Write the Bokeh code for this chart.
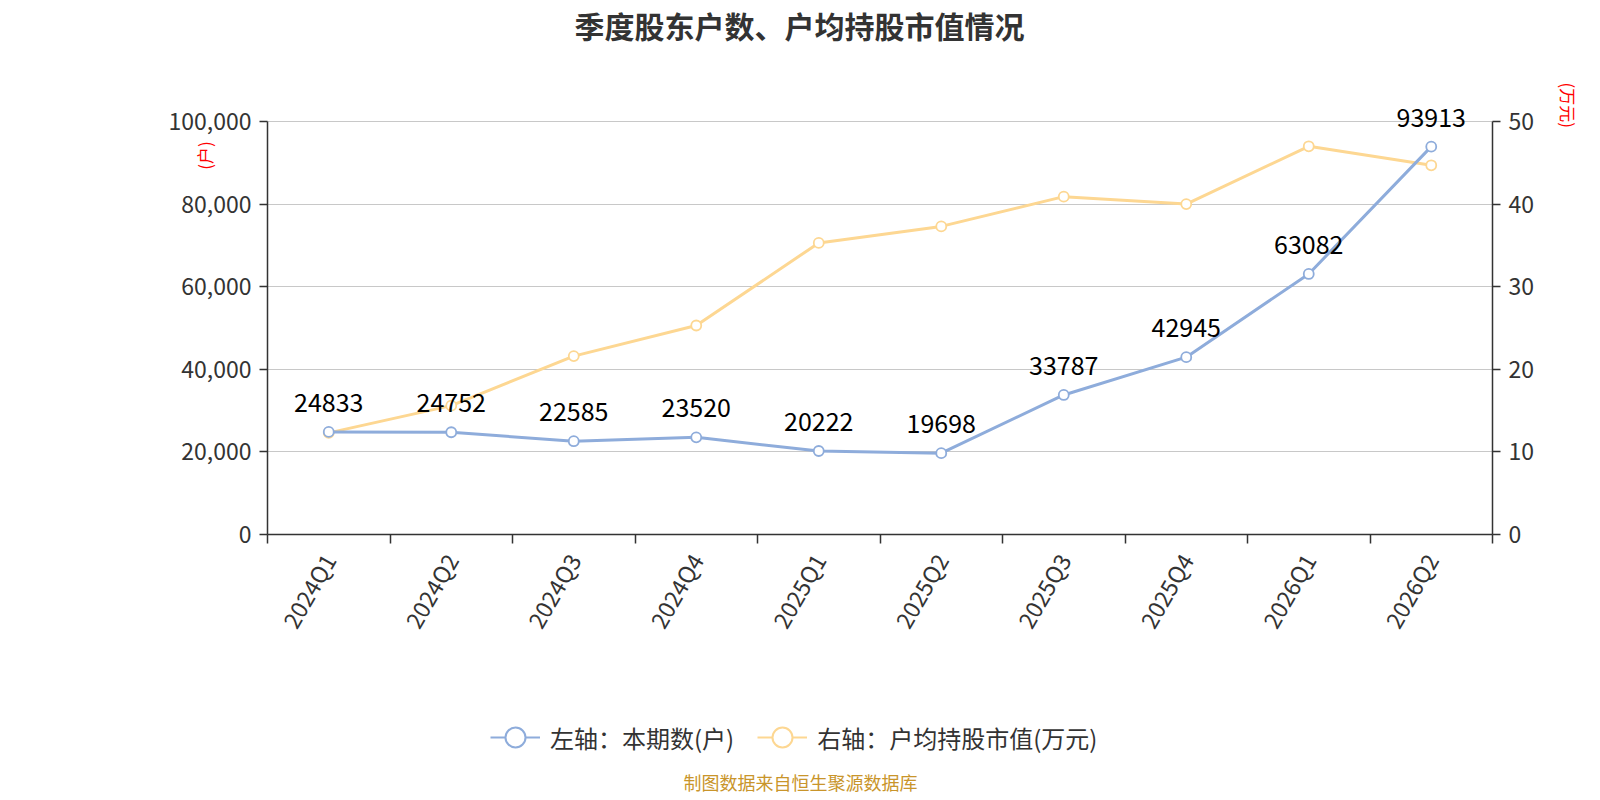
import math
from bokeh.plotting import figure
from bokeh.layouts import column
from bokeh.models import (Range1d, LinearAxis, FixedTicker, NumeralTickFormatter, ColumnDataSource,
                          LabelSet, Label, Legend, LegendItem)
from bokeh.core.properties import value
from bokeh.embed import file_html
from bokeh.resources import INLINE

quarters = ["2024Q1", "2024Q2", "2024Q3", "2024Q4", "2025Q1", "2025Q2", "2025Q3", "2025Q4", "2026Q1", "2026Q2"]
holders = [24833, 24752, 22585, 23520, 20222, 19698, 33787, 42945, 63082, 93913]
avg_value = [12.3, 15.6, 21.6, 25.3, 35.3, 37.3, 40.9, 40.0, 47.0, 44.7]
left_ticks = [0, 20000, 40000, 60000, 80000, 100000]
right_ticks = [0, 10, 20, 30, 40, 50]

FONT = "Noto Sans CJK SC"
BLUE = "#8EACDB"
ORANGE = "#FDD792"
TXT = "#333333"
RED = "#FF0000"

W = 1596
FL, FR = 267, 1492     # frame left / right (page px); column aligns all frames to this
TITLE_H = 82
FRAME_H = 452          # frame height (page 82 .. 534)
AX_H = 413             # px spanned by 0..100000
TOP = 100000 * FRAME_H / AX_H
MAIN_H = FRAME_H + 112
BOT_H = 150

# ---- title strip
t = figure(width=W, height=TITLE_H, output_backend="svg", toolbar_location=None,
           x_range=Range1d(FL, FR), y_range=Range1d(0, TITLE_H), x_axis_type=None, y_axis_type=None,
           min_border=0)
t.outline_line_color = None
t.add_layout(Label(x=799, y=TITLE_H - 24, text="季度股东户数、户均持股市值情况", text_align="center",
                   text_baseline="middle", text_font=FONT, text_font_size="30px",
                   text_font_style="bold", text_color=TXT))

# ---- main chart
xs = [i + 0.5 for i in range(len(quarters))]
p = figure(width=W, height=MAIN_H, output_backend="svg", toolbar_location=None,
           x_range=Range1d(0, len(quarters)), y_range=Range1d(0, TOP),
           min_border_left=FL, min_border_right=W - FR, min_border_top=0,
           min_border_bottom=MAIN_H - FRAME_H)
p.extra_y_ranges = {"right": Range1d(0, 50 * FRAME_H / AX_H)}
p.outline_line_color = None

xa = p.xaxis[0]
xa.ticker = FixedTicker(ticks=xs, minor_ticks=list(range(len(quarters) + 1)))
xa.major_label_overrides = {x: q for x, q in zip(xs, quarters)}
xa.major_tick_in = 0
xa.major_tick_out = 0
xa.minor_tick_in = 0
xa.minor_tick_out = 9
xa.minor_tick_line_color = TXT
xa.minor_tick_line_width = 1.5
xa.axis_line_color = TXT
xa.axis_line_width = 1.5
xa.major_label_orientation = math.pi / 3
xa.major_label_text_font = FONT
xa.major_label_text_font_size = "23px"
xa.major_label_text_color = TXT
xa.major_label_standoff = 12

ya = p.yaxis[0]
ya.ticker = FixedTicker(ticks=left_ticks)
ya.bounds = (0, 100000)
ya.formatter = NumeralTickFormatter(format="0,0")
ya.minor_tick_line_color = None
ya.major_tick_in = 0
ya.major_tick_out = 8
ya.major_tick_line_color = TXT
ya.major_tick_line_width = 1.5
ya.axis_line_color = TXT
ya.axis_line_width = 1.5
ya.major_label_text_font = FONT
ya.major_label_text_font_size = "23px"
ya.major_label_text_color = TXT
ya.major_label_standoff = 8
ya.axis_label = "\u3000" * 18 + "(户)"
ya.axis_label_text_font = FONT
ya.axis_label_text_font_size = "17px"
ya.axis_label_text_font_style = "normal"
ya.axis_label_text_color = RED
ya.axis_label_align = "center"
ya.axis_label_standoff = -51

ra = LinearAxis(y_range_name="right", ticker=FixedTicker(ticks=right_ticks), bounds=(0, 50))
ra.minor_tick_line_color = None
ra.major_tick_in = 0
ra.major_tick_out = 8
ra.major_tick_line_color = TXT
ra.major_tick_line_width = 1.5
ra.axis_line_color = TXT
ra.axis_line_width = 1.5
ra.major_label_text_font = FONT
ra.major_label_text_font_size = "23px"
ra.major_label_text_color = TXT
ra.major_label_standoff = 8
ra.axis_label = "(万元)"
ra.axis_label_text_font = FONT
ra.axis_label_text_font_size = "17px"
ra.axis_label_text_font_style = "normal"
ra.axis_label_text_color = RED
ra.axis_label_orientation = -math.pi / 2
ra.axis_label_align = "end"
ra.axis_label_standoff = 31
p.add_layout(ra, "right")

p.xgrid.visible = False
p.ygrid.ticker = FixedTicker(ticks=left_ticks)
p.ygrid.grid_line_color = "#c8c8c8"
p.ygrid.grid_line_width = 1

src_l = ColumnDataSource(dict(x=xs, y=holders, t=[str(v) for v in holders]))
src_r = ColumnDataSource(dict(x=xs, y=avg_value))

p.line("x", "y", source=src_r, y_range_name="right", line_color=ORANGE, line_width=3)
p.scatter("x", "y", source=src_r, y_range_name="right", size=10, fill_color="white",
          line_color=ORANGE, line_width=1.8)
p.line("x", "y", source=src_l, line_color=BLUE, line_width=3)
p.scatter("x", "y", source=src_l, size=10, fill_color="white", line_color=BLUE, line_width=1.8)

p.add_layout(LabelSet(x="x", y="y", text="t", source=src_l, text_align="center",
                      text_baseline="alphabetic", y_offset=20, text_font=value(FONT),
                      text_font_size=value("25px"), text_color="#000000"))

# ---- bottom strip: legend and source note
q = figure(width=W, height=BOT_H, output_backend="svg", toolbar_location=None,
           x_range=Range1d(FL, FR), y_range=Range1d(0, BOT_H), x_axis_type=None, y_axis_type=None,
           min_border=0)
q.outline_line_color = None
# legend-only renderers (hidden) sharing the series sources
l1 = q.line("x", "y", source=src_l, line_color=BLUE, line_width=2, visible=False)
s1 = q.scatter("x", "y", source=src_l, fill_color="white", line_color=BLUE, line_width=2, visible=False)
l2 = q.line("x", "y", source=src_r, line_color=ORANGE, line_width=2, visible=False)
s2 = q.scatter("x", "y", source=src_r, fill_color="white", line_color=ORANGE, line_width=2, visible=False)
legend = Legend(items=[LegendItem(label="左轴：本期数(户)", renderers=[l1, s1]),
                       LegendItem(label="右轴：户均持股市值(万元)", renderers=[l2, s2])],
                orientation="horizontal", location=(490 - FL, 34))
legend.click_policy = "none"
legend.inactive_fill_alpha = 0
legend.label_text_font = FONT
legend.label_text_font_size = "24px"
legend.label_text_color = TXT
legend.glyph_width = 50
legend.glyph_height = 50
legend.label_standoff = 10
legend.spacing = 23
legend.padding = 0
legend.margin = 0
legend.border_line_color = None
legend.background_fill_alpha = 0
q.add_layout(legend)
q.add_layout(Label(x=800, y=15, text="制图数据来自恒生聚源数据库", text_align="center",
                   text_baseline="middle", text_font=FONT, text_font_size="18px", text_color="#C9952B"))

page = column(t, p, q, spacing=0)
open("out.html", "w").write(file_html(page, INLINE))
